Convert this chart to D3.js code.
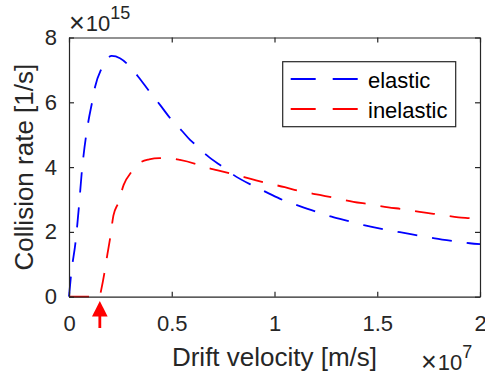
<!DOCTYPE html>
<html>
<head>
<meta charset="utf-8">
<script src="https://cdn.jsdelivr.net/npm/d3@7"></script>
<style>
  html, body { margin: 0; padding: 0; background: #fff; }
  svg { display: block; font-family: "Liberation Sans", Arial, Helvetica, sans-serif; }
</style>
</head>
<body>
<svg id="chart" width="485" height="379"></svg>
<script>
// Drift velocity samples [m/s] and collision rates [1/s]
const elasticVelocity = [0, 0.1e6, 0.33e6, 0.49e6, 0.63e6, 0.70e6, 0.94e6, 1.13e6, 1.27e6, 1.59e6, 1.83e6, 2.08e6, 2.48e6, 2.89e6, 3.37e6, 3.94e6, 4.43e6, 5.0e6, 5.48e6, 5.89e6, 6.21e6, 6.7e6, 7.51e6, 8.0e6, 8.97e6, 9.62e6, 10.5e6, 11.16e6, 12.13e6, 12.78e6, 13.76e6, 14.4e6, 15.46e6, 16.1e6, 17.16e6, 17.8e6, 18.78e6, 19.5e6, 20e6];
const elasticRate = [0, 0.67e15, 1.75e15, 2.83e15, 3.9e15, 4.32e15, 5.4e15, 6.02e15, 6.48e15, 7.05e15, 7.33e15, 7.43e15, 7.36e15, 7.15e15, 6.79e15, 6.31e15, 5.92e15, 5.45e15, 5.13e15, 4.84e15, 4.66e15, 4.37e15, 3.99e15, 3.76e15, 3.42e15, 3.22e15, 2.96e15, 2.81e15, 2.6e15, 2.47e15, 2.31e15, 2.2e15, 2.06e15, 1.99e15, 1.87e15, 1.8e15, 1.71e15, 1.65e15, 1.62e15];

const inelasticVelocity = [0, 1.5e6, 1.72e6, 1.85e6, 2.0e6, 2.16e6, 2.4e6, 2.66e6, 3.05e6, 3.45e6, 3.9e6, 4.4e6, 4.9e6, 5.4e6, 6.21e6, 6.78e6, 7.19e6, 7.83e6, 8.89e6, 9.54e6, 10.5e6, 11.16e6, 12.2e6, 12.86e6, 13.84e6, 14.57e6, 15.54e6, 16.27e6, 17.24e6, 17.97e6, 18.95e6, 19.68e6, 20e6];
const inelasticRate = [0, 0, 0.72e15, 1.24e15, 1.8e15, 2.5e15, 2.9e15, 3.45e15, 3.86e15, 4.13e15, 4.24e15, 4.28e15, 4.27e15, 4.22e15, 4.09e15, 3.97e15, 3.91e15, 3.81e15, 3.63e15, 3.52e15, 3.38e15, 3.27e15, 3.14e15, 3.06e15, 2.93e15, 2.86e15, 2.76e15, 2.7e15, 2.6e15, 2.54e15, 2.45e15, 2.41e15, 2.38e15];

// Inelastic threshold velocity marked by the arrow
const thresholdVelocity = [1.5e6];

const seriesNames = ["elastic", "inelastic"];
const seriesColors = ["#0000ff", "#ff0000"];

const xTicks = [0, 0.5e7, 1e7, 1.5e7, 2e7];
const xTickLabels = ["0", "0.5", "1", "1.5", "2"];
const yTicks = [0, 2e15, 4e15, 6e15, 8e15];
const yTickLabels = ["0", "2", "4", "6", "8"];

const axisColor = "#262626";
const plot = { left: 69, right: 480, top: 37.5, bottom: 296.7 };

const svg = d3.select("#chart");

const x = d3.scaleLinear().domain([0, 2e7]).range([plot.left, plot.right]);
const y = d3.scaleLinear().domain([0, 8e15]).range([plot.bottom, plot.top]);

// Curves (drawn first so the axes box sits on top)
const line = d3.line().x(d => x(d[0])).y(d => y(d[1])).curve(d3.curveMonotoneX);

function curvePath(vs, rs, flatLead) {
  const pts = vs.map((v, i) => [v, rs[i]]);
  if (!flatLead) return line(pts);
  // straight zero segment up to the threshold, then a smooth curve
  const head = `M${x(pts[0][0])},${y(pts[0][1])}`;
  return head + line(pts.slice(1)).replace(/^M/, "L");
}

const curves = svg.append("g").attr("fill", "none")
  .attr("stroke-width", 1.8).attr("stroke-dasharray", "20,15");
curves.append("path")
  .attr("d", curvePath(elasticVelocity, elasticRate, false))
  .attr("stroke", seriesColors[0]);
curves.append("path")
  .attr("d", curvePath(inelasticVelocity, inelasticRate, true))
  .attr("stroke", seriesColors[1]);

// Axes box with inward ticks on all four sides
function styleAxis(g) {
  g.select(".domain").attr("stroke", axisColor).attr("stroke-width", 1.2);
  g.selectAll(".tick line").attr("stroke", axisColor).attr("stroke-width", 1.2);
  g.selectAll(".tick text").attr("fill", axisColor)
    .attr("font-family", "'Liberation Sans', Arial, Helvetica, sans-serif")
    .attr("font-size", 22);
}

svg.append("g").attr("transform", `translate(0,${plot.bottom})`)
  .call(d3.axisBottom(x).tickValues(xTicks).tickFormat((d, i) => xTickLabels[i])
    .tickSizeInner(-5).tickSizeOuter(0).tickPadding(19))
  .call(styleAxis);
svg.append("g").attr("transform", `translate(0,${plot.top})`)
  .call(d3.axisTop(x).tickValues(xTicks).tickFormat("")
    .tickSizeInner(-5).tickSizeOuter(0))
  .call(styleAxis);
svg.append("g").attr("transform", `translate(${plot.left},0)`)
  .call(d3.axisLeft(y).tickValues(yTicks).tickFormat((d, i) => yTickLabels[i])
    .tickSizeInner(-5).tickSizeOuter(0).tickPadding(12))
  .call(styleAxis);
svg.append("g").attr("transform", `translate(${plot.right},0)`)
  .call(d3.axisRight(y).tickValues(yTicks).tickFormat("")
    .tickSizeInner(-5).tickSizeOuter(0))
  .call(styleAxis);

// Axis labels
svg.append("text")
  .attr("x", (plot.left + plot.right) / 2).attr("y", 366)
  .attr("text-anchor", "middle").attr("font-size", 26).attr("fill", axisColor)
  .text("Drift velocity [m/s]");
svg.append("text")
  .attr("transform", `translate(33,${(plot.top + plot.bottom) / 2}) rotate(-90)`)
  .attr("text-anchor", "middle").attr("font-size", 26).attr("fill", axisColor)
  .text("Collision rate [1/s]");

// Exponent multipliers
function exponent(xPos, yPos, base, power) {
  const t = svg.append("text").attr("x", xPos).attr("y", yPos)
    .style("font-size", "22px").attr("fill", axisColor);
  t.append("tspan").style("font-size", "27px").attr("dy", 1).text("\u00d7");
  t.append("tspan").attr("dx", 1).attr("dy", -1).text(base);
  t.append("tspan").attr("dy", -12).style("font-size", "18px").text(power);
}
exponent(69, 31, "10", "15");
exponent(421, 369.5, "10", "7");

// Threshold arrow below the axis
const ax = x(thresholdVelocity[0]);
const arrow = svg.append("g").attr("fill", seriesColors[1]).attr("stroke", "none");
arrow.append("path").attr("d", `M${ax},301 L${ax - 7.8},316.5 L${ax + 7.8},316.5 Z`);
arrow.append("rect").attr("x", ax - 1.4).attr("y", 315).attr("width", 2.8).attr("height", 13);

// Legend
const legend = svg.append("g");
legend.append("rect")
  .attr("x", 282.7).attr("y", 61.7).attr("width", 173).attr("height", 65)
  .attr("fill", "#fff").attr("stroke", axisColor).attr("stroke-width", 1.2);
seriesNames.forEach((name, i) => {
  const ly = 79 + i * 30;
  legend.append("line")
    .attr("x1", 290.7).attr("x2", 358.3).attr("y1", ly).attr("y2", ly)
    .attr("stroke", seriesColors[i]).attr("stroke-width", 1.8)
    .attr("stroke-dasharray", "25,17");
  legend.append("text")
    .attr("x", 368).attr("y", ly + 9.3)
    .attr("font-size", 22).attr("fill", "#000")
    .text(name);
});
</script>
</body>
</html>
